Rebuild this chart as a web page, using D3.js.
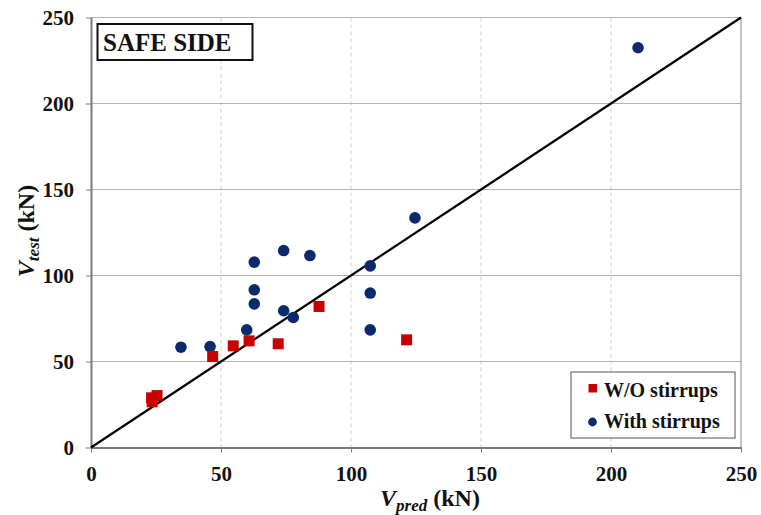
<!DOCTYPE html>
<html>
<head>
<meta charset="utf-8">
<script src="https://cdn.jsdelivr.net/npm/d3@7"></script>
<style>
  body { margin: 0; background: #fff; }
  text { font-family: "Liberation Serif", "Times New Roman", serif; font-weight: bold; }
</style>
</head>
<body>
<div class="canvas"></div>
<script>
// data
const ticks = [0, 50, 100, 150, 200, 250];

const woPred = [23.3, 25.4, 23.5, 46.8, 54.7, 60.8, 72.0, 87.7, 121.4];
const woTest = [28.9, 30.2, 26.6, 52.9, 59.1, 62.0, 60.3, 82.0, 62.6];

const withPred = [34.6, 45.8, 59.9, 62.8, 62.8, 62.8, 74.1, 74.1, 77.8, 84.2, 107.4, 107.4, 107.4, 124.6, 210.4];
const withTest = [58.3, 58.7, 68.4, 107.8, 91.7, 83.5, 114.5, 79.5, 75.6, 111.6, 105.6, 89.8, 68.4, 133.5, 232.4];

const svg = d3.select('.canvas')
  .append('svg')
    .attr('width', 761)
    .attr('height', 515);

const margin = {top: 17.5, left: 91};
const graphWidth = 650;
const graphHeight = 430;

const graph = svg.append('g')
  .attr('transform', `translate(${margin.left}, ${margin.top})`);

const x = d3.scaleLinear().domain([0, 250]).range([0, graphWidth]);
const y = d3.scaleLinear().domain([0, 250]).range([graphHeight, 0]);

// grid
graph.selectAll('.vgrid')
  .data(ticks.slice(1, -1))
  .enter().append('line')
    .attr('x1', d => x(d)).attr('x2', d => x(d))
    .attr('y1', 0).attr('y2', graphHeight)
    .attr('stroke', '#cfcfcf')
    .attr('stroke-dasharray', '4,3');

graph.selectAll('.hgrid')
  .data(ticks.slice(1))
  .enter().append('line')
    .attr('x1', 0).attr('x2', graphWidth)
    .attr('y1', d => y(d)).attr('y2', d => y(d))
    .attr('stroke', '#b4b4b4');

// right border
graph.append('line')
  .attr('x1', graphWidth).attr('x2', graphWidth)
  .attr('y1', 0).attr('y2', graphHeight)
  .attr('stroke', '#8a8a8a');

// axes
const xAxis = d3.axisBottom(x).tickValues(ticks).tickSize(5).tickSizeOuter(0).tickPadding(12);
const yAxis = d3.axisLeft(y).tickValues(ticks).tickSize(5).tickSizeOuter(0).tickPadding(12);

const xAxisGroup = graph.append('g')
  .attr('transform', `translate(0, ${graphHeight})`)
  .call(xAxis);
const yAxisGroup = graph.append('g').call(yAxis);

[xAxisGroup, yAxisGroup].forEach(g => {
  g.select('.domain').attr('stroke', '#7a7a7a').attr('stroke-width', 2);
  g.selectAll('.tick line').attr('stroke', '#7a7a7a');
  g.selectAll('text')
    .attr('fill', '#111')
    .style('font-size', '21px')
    .style('font-family', '"Liberation Serif", serif')
    .style('font-weight', 'bold');
});
xAxisGroup.selectAll('text').attr('dy', '0.8em');

// 1:1 line
graph.append('line')
  .attr('x1', x(0)).attr('y1', y(0))
  .attr('x2', x(250)).attr('y2', y(250))
  .attr('stroke', '#000')
  .attr('stroke-width', 2.2);

// points
const navy = '#0b2a6e';
const red = '#c80000';
const sq = 11;

graph.selectAll('.with')
  .data(withPred)
  .enter().append('circle')
    .attr('cx', d => x(d))
    .attr('cy', (d, i) => y(withTest[i]))
    .attr('r', 5.8)
    .attr('fill', navy);

graph.selectAll('.wo')
  .data(woPred)
  .enter().append('rect')
    .attr('x', d => x(d) - sq / 2)
    .attr('y', (d, i) => y(woTest[i]) - sq / 2)
    .attr('width', sq)
    .attr('height', sq)
    .attr('fill', red);

// SAFE SIDE box
svg.append('rect')
  .attr('x', 97.5).attr('y', 24)
  .attr('width', 155).attr('height', 36)
  .attr('fill', '#fff')
  .attr('stroke', '#111')
  .attr('stroke-width', 2);
svg.append('text')
  .attr('x', 103).attr('y', 51)
  .style('font-size', '25px')
  .attr('fill', '#111')
  .text('SAFE SIDE');

// legend
const legend = svg.append('g');
legend.append('rect')
  .attr('x', 571).attr('y', 372)
  .attr('width', 164).attr('height', 66)
  .attr('fill', '#fff')
  .attr('stroke', '#555')
  .attr('stroke-width', 1);
legend.append('rect')
  .attr('x', 588.5).attr('y', 384)
  .attr('width', 8.5).attr('height', 8.5)
  .attr('fill', red);
legend.append('text')
  .attr('x', 604).attr('y', 397)
  .style('font-size', '20px')
  .attr('fill', '#111')
  .text('W/O stirrups');
legend.append('circle')
  .attr('cx', 592.5).attr('cy', 422)
  .attr('r', 4.4)
  .attr('fill', navy);
legend.append('text')
  .attr('x', 604).attr('y', 428)
  .style('font-size', '20px')
  .attr('fill', '#111')
  .text('With stirrups');

// axis titles
const xt = svg.append('text')
  .attr('x', 430).attr('y', 506)
  .attr('text-anchor', 'middle')
  .style('font-size', '24px')
  .attr('fill', '#111');
xt.append('tspan').style('font-style', 'italic').text('V');
xt.append('tspan').style('font-style', 'italic').style('font-size', '17px').attr('dy', 5).text('pred');
xt.append('tspan').attr('dy', -5).text(' (kN)');

const yt = svg.append('text')
  .attr('transform', 'translate(34, 231) rotate(-90)')
  .attr('text-anchor', 'middle')
  .style('font-size', '24px')
  .attr('fill', '#111');
yt.append('tspan').style('font-style', 'italic').text('V');
yt.append('tspan').style('font-style', 'italic').style('font-size', '17px').attr('dy', 5).text('test');
yt.append('tspan').attr('dy', -5).text(' (kN)');
</script>
</body>
</html>
